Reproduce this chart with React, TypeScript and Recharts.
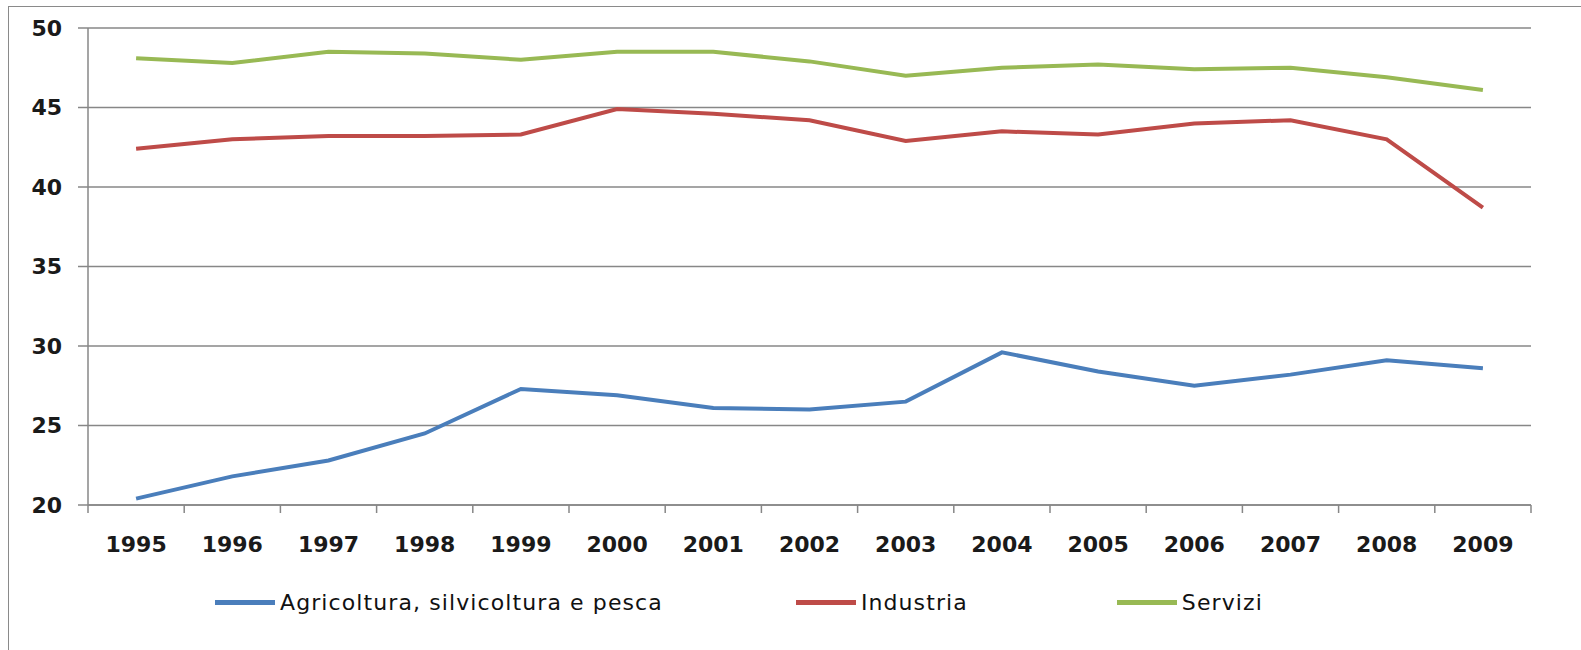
import React from 'react';
import { LineChart, Line, XAxis, YAxis, CartesianGrid, Legend } from 'recharts';

const years = ['1995', '1996', '1997', '1998', '1999', '2000', '2001', '2002', '2003', '2004', '2005', '2006', '2007', '2008', '2009'];
const agricoltura = [20.4, 21.8, 22.8, 24.5, 27.3, 26.9, 26.1, 26.0, 26.5, 29.6, 28.4, 27.5, 28.2, 29.1, 28.6];
const industria = [42.4, 43.0, 43.2, 43.2, 43.3, 44.9, 44.6, 44.2, 42.9, 43.5, 43.3, 44.0, 44.2, 43.0, 38.7];
const servizi = [48.1, 47.8, 48.5, 48.4, 48.0, 48.5, 48.5, 47.9, 47.0, 47.5, 47.7, 47.4, 47.5, 46.9, 46.1];
const yTicks = [20, 25, 30, 35, 40, 45, 50];

const seriesInfo = [
  { key: 'agr', name: 'Agricoltura, silvicoltura e pesca', color: '#4A7EBB' },
  { key: 'ind', name: 'Industria', color: '#BE4B48' },
  { key: 'ser', name: 'Servizi', color: '#98B954' },
];

// Each year sits in the middle of its own band on a 0..n numeric scale
const data = years.map((year, i) => ({
  pos: i + 0.5,
  year,
  agr: agricoltura[i],
  ind: industria[i],
  ser: servizi[i],
}));

const boundaryTicks = years.map((_, i) => i).concat([years.length]);
const centerTicks = years.map((_, i) => i + 0.5);

const FONT = '"DejaVu Sans", sans-serif';
const GRID = '#878787';
const legendSpacing = [133, 149, 0];

const LegendContent = () => (
  <div
    style={{
      display: 'flex',
      alignItems: 'center',
      fontFamily: FONT,
      fontSize: 22,
      letterSpacing: 1.1,
      color: '#111',
    }}
  >
    {seriesInfo.map((s, i) => (
      <div
        key={s.key}
        style={{ display: 'flex', alignItems: 'center', whiteSpace: 'nowrap', marginRight: legendSpacing[i] }}
      >
        <span style={{ display: 'inline-block', width: 60, height: 5, background: s.color, marginRight: 5 }} />
        <span>{s.name}</span>
      </div>
    ))}
  </div>
);

export default function App() {
  return (
    <div
      style={{
        position: 'absolute',
        top: 6,
        left: 8,
        width: 1573,
        height: 644,
        borderTop: '1px solid #8a8a8a',
        borderLeft: '1px solid #8a8a8a',
        background: '#fff',
      }}
    >
      <LineChart
        width={1572}
        height={643}
        data={data}
        margin={{ top: 21, right: 50, bottom: 30, left: 0 }}
      >
        <CartesianGrid vertical={false} stroke={GRID} strokeWidth={1.5} />
        <XAxis
          xAxisId="bands"
          dataKey="pos"
          type="number"
          domain={[0, years.length]}
          ticks={boundaryTicks}
          interval={0}
          height={10}
          tickSize={8}
          stroke={GRID}
          strokeWidth={1.5}
          tick={() => <g />}
        />
        <XAxis
          xAxisId="years"
          dataKey="pos"
          type="number"
          domain={[0, years.length]}
          ticks={centerTicks}
          interval={0}
          height={75}
          axisLine={false}
          tickLine={false}
          tickSize={0}
          tickMargin={21}
          tickFormatter={(v: number) => years[Math.floor(v)]}
          tick={{ fill: '#1a1a1a', fontSize: 22, fontWeight: 'bold', fontFamily: FONT }}
        />
        <YAxis
          domain={[20, 50]}
          ticks={yTicks}
          interval={0}
          width={79}
          tickSize={10}
          tickMargin={16}
          stroke={GRID}
          strokeWidth={1.5}
          tick={{ fill: '#1a1a1a', fontSize: 22, fontWeight: 'bold', fontFamily: FONT }}
        />
        <Legend
          verticalAlign="bottom"
          align="left"
          height={30}
          wrapperStyle={{ left: 206, width: 'auto' }}
          content={<LegendContent />}
        />
        {seriesInfo.map((s) => (
          <Line
            key={s.key}
            xAxisId="years"
            type="linear"
            dataKey={s.key}
            name={s.name}
            stroke={s.color}
            strokeWidth={4}
            dot={false}
            activeDot={false}
            isAnimationActive={false}
          />
        ))}
      </LineChart>
    </div>
  );
}
